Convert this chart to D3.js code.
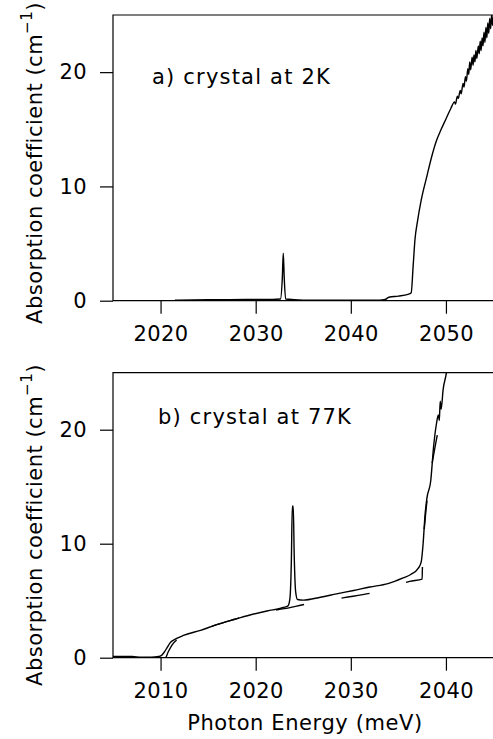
<!DOCTYPE html>
<html>
<head>
<meta charset="utf-8">
<script src="https://cdn.jsdelivr.net/npm/d3@7/dist/d3.min.js"></script>
<style>
  body { margin: 0; background: #fff; }
  text { font-family: "DejaVu Sans", sans-serif; fill: #000; }
</style>
</head>
<body>
<div id="chart"></div>
<script>
// panel a) crystal at 2K : [energy meV, absorption cm^-1]
const spectrum2K = [
  [2021.5, 0.05], [2025, 0.08], [2029, 0.12], [2031, 0.1], [2032.6, 0.15],
  [2032.8, 2.0], [2032.9, 4.15], [2033.0, 2.0], [2033.15, 0.15], [2035, 0.05],
  [2040, 0.05], [2043, 0.05], [2043.6, 0.1], [2044, 0.3], [2045, 0.4],
  [2046, 0.55], [2046.35, 0.7], [2046.55, 3.0], [2046.75, 5.4], [2047.0, 6.9],
  [2047.4, 8.8], [2048, 10.9], [2048.5, 12.6], [2049, 14.0], [2049.5, 15.0],
  [2050, 15.9], [2050.5, 16.8], [2050.9, 17.4], [2051.0, 17.2], [2051.2, 17.9],
  [2051.3, 17.7], [2051.5, 18.4], [2051.6, 18.1], [2051.8, 19.0], [2051.9, 18.7],
  [2052.05, 19.6], [2052.15, 19.2], [2052.3, 20.3], [2052.4, 19.8], [2052.5, 20.9],
  [2052.6, 20.2], [2052.75, 21.3], [2052.85, 20.6], [2052.95, 21.5], [2053.05, 20.9],
  [2053.15, 21.9], [2053.25, 21.2], [2053.4, 22.3], [2053.5, 21.6], [2053.6, 22.7],
  [2053.7, 21.9], [2053.8, 23.0], [2053.9, 22.3], [2054.0, 23.5], [2054.1, 22.6],
  [2054.2, 23.9], [2054.3, 23.0], [2054.4, 24.3], [2054.5, 23.4], [2054.6, 24.7],
  [2054.7, 23.8], [2054.8, 25.0], [2054.9, 24.1], [2055, 25.0]
];

// panel b) crystal at 77K : measured spectrum
const spectrum77K = [
  [2005, 0.1], [2007, 0.1], [2008, 0.05], [2009, 0.05], [2009.8, 0.1],
  [2010.1, 0.2], [2010.4, 0.5], [2010.7, 0.9], [2011, 1.3], [2011.5, 1.6],
  [2012.4, 1.95], [2014.2, 2.4], [2015.9, 2.9], [2017.7, 3.35], [2019.4, 3.75],
  [2021.2, 4.1], [2022.9, 4.4], [2023.4, 4.55], [2023.6, 5.2], [2023.75, 8.5],
  [2023.85, 13.3], [2023.95, 13.3], [2024.05, 9.0], [2024.2, 5.8], [2024.4, 5.1],
  [2025, 5.05], [2026.8, 5.3], [2028.5, 5.6], [2030.3, 5.9], [2032, 6.2],
  [2033.9, 6.5], [2035.5, 7.0], [2036.3, 7.3], [2037.1, 7.85], [2037.4, 8.4],
  [2037.6, 10.0], [2037.8, 12.5], [2038.0, 14.0], [2038.4, 15.5], [2038.7, 18.5],
  [2039.0, 20.5], [2039.2, 21.3], [2039.3, 20.8], [2039.4, 22.5], [2039.5, 21.8],
  [2039.7, 23.5], [2040.05, 25], [2040.2, 26]
];

// panel b) model curve (dashed)
const model77K = [
  [2005, 0.0], [2010.5, 0.0], [2010.8, 0.5], [2011.2, 1.1], [2012, 1.75],
  [2014.2, 2.4], [2015.9, 2.9], [2017.7, 3.35], [2019.4, 3.75], [2021.2, 4.05],
  [2023, 4.3], [2025.3, 4.7], [2027, 4.95], [2029.3, 5.27], [2032.3, 5.7],
  [2034, 6.05], [2036.2, 6.7], [2037.5, 6.9], [2037.55, 9.0], [2037.8, 12.0],
  [2038.2, 15.0], [2038.9, 18.7], [2039.85, 22.2]
];

const xDomainA = [2015, 2055];
const xDomainB = [2005, 2045];
const yDomain = [0, 25];
const xTicksA = [2020, 2030, 2040, 2050];
const xTicksB = [2010, 2020, 2030, 2040];
const yTicks = [0, 10, 20];

const width = 493, height = 739;
const left = 113, right = 493.5;

const svg = d3.select("#chart")
    .append("svg")
    .attr("width", width)
    .attr("height", height);

function drawPanel(cfg) {
    const x = d3.scaleLinear().domain(cfg.xDomain).range([left, right]);
    const y = d3.scaleLinear().domain(yDomain).range([cfg.bottom, cfg.top]);

    const g = svg.append("g");

    g.append("clipPath")
        .attr("id", cfg.id)
        .append("rect")
        .attr("x", left)
        .attr("y", cfg.top)
        .attr("width", right - left)
        .attr("height", cfg.bottom - cfg.top);

    const line = d3.line()
        .curve(d3.curveMonotoneX)
        .x(d => x(d[0]))
        .y(d => y(d[1]));

    cfg.series.forEach(s => {
        g.append("path")
            .datum(s.data)
            .attr("clip-path", `url(#${cfg.id})`)
            .attr("d", line)
            .attr("fill", "none")
            .attr("stroke", "#000")
            .attr("stroke-width", 1.4)
            .attr("stroke-linejoin", "round")
            .attr("stroke-dasharray", s.dash || null)
            .attr("stroke-dashoffset", s.offset || 0);
    });

    // frame: left, top, bottom
    g.append("path")
        .attr("d", `M${right},${cfg.top}H${left}V${cfg.bottom}H${right}`)
        .attr("fill", "none")
        .attr("stroke", "#000")
        .attr("stroke-width", 1.2);

    const xAxis = g.append("g")
        .attr("transform", `translate(0,${cfg.bottom})`)
        .call(d3.axisBottom(x).tickValues(cfg.xTicks).tickSize(13).tickPadding(12).tickFormat(d3.format("d")));
    const yAxis = g.append("g")
        .attr("transform", `translate(${left},0)`)
        .call(d3.axisLeft(y).tickValues(yTicks).tickSize(13).tickPadding(13));

    [xAxis, yAxis].forEach(a => {
        a.select(".domain").remove();
        a.selectAll("line").attr("stroke", "#000").attr("stroke-width", 1.2);
        a.selectAll("text")
            .attr("font-family", "DejaVu Sans")
            .attr("font-size", 21)
            .attr("letter-spacing", 0.4)
            .attr("fill", "#000");
    });

    g.append("text")
        .attr("x", cfg.labelX)
        .attr("y", cfg.labelY)
        .attr("font-size", 21)
        .attr("letter-spacing", 1.2)
        .text(cfg.label);

    const ylab = g.append("text")
        .attr("transform", `translate(42,${cfg.yLabelY}) rotate(-90)`)
        .attr("text-anchor", "middle")
        .attr("font-size", 21)
        .attr("letter-spacing", 0.5);
    ylab.append("tspan").text("Absorption coefficient (cm");
    ylab.append("tspan").attr("font-size", 15).attr("dy", -10).text("\u22121");
    ylab.append("tspan").attr("dy", 10).text(")");
}

drawPanel({
    id: "clipA", top: 15, bottom: 300.7, xDomain: xDomainA, xTicks: xTicksA,
    label: "a) crystal at 2K", labelX: 152, labelY: 83.5, yLabelY: 163,
    series: [{ data: spectrum2K }]
});

drawPanel({
    id: "clipB", top: 372.7, bottom: 657.7, xDomain: xDomainB, xTicks: xTicksB,
    label: "b) crystal at 77K", labelX: 158, labelY: 423.5, yLabelY: 525,
    series: [{ data: spectrum77K }, { data: model77K, dash: "28.5,38", offset: 21.5 }]
});

svg.append("text")
    .attr("x", 305)
    .attr("y", 730)
    .attr("text-anchor", "middle")
    .attr("font-size", 21)
    .attr("letter-spacing", 0.6)
    .text("Photon Energy (meV)");
</script>
</body>
</html>
